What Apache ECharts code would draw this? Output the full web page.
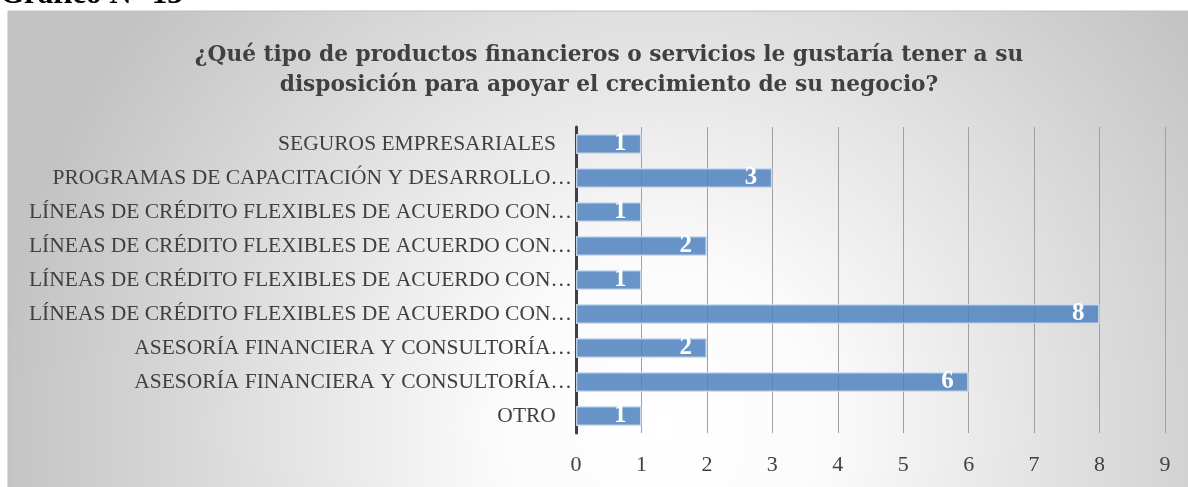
<!DOCTYPE html>
<html>
<head>
<meta charset="utf-8">
<script src="https://cdn.jsdelivr.net/npm/echarts@6/dist/echarts.min.js"></script>
<style>
  html, body { margin: 0; padding: 0; background: #fff; }
  #chart { width: 1188px; height: 487px; }
</style>
</head>
<body>
<div id="chart"></div>
<script>
// categorias tal como aparecen (de arriba hacia abajo)
const categorias = [
  "SEGUROS EMPRESARIALES   ",
  "PROGRAMAS DE CAPACITACIÓN Y DESARROLLO…",
  "LÍNEAS DE CRÉDITO FLEXIBLES DE ACUERDO CON…",
  "LÍNEAS DE CRÉDITO FLEXIBLES DE ACUERDO CON…",
  "LÍNEAS DE CRÉDITO FLEXIBLES DE ACUERDO CON…",
  "LÍNEAS DE CRÉDITO FLEXIBLES DE ACUERDO CON…",
  "ASESORÍA FINANCIERA Y CONSULTORÍA…",
  "ASESORÍA FINANCIERA Y CONSULTORÍA…",
  "OTRO   "
];
const valores = [1, 3, 1, 2, 1, 8, 2, 6, 1];
const ejeMin = 0;
const ejeMax = 9;

const titulo = "¿Qué tipo de productos financieros o servicios le gustaría tener a su\ndisposición para apoyar el crecimiento de su negocio?";
const serif = "Liberation Serif";

/*
 * =================grafico de barras===================*/
{
  const dom = document.getElementById("chart");
  const myChart = echarts.init(dom, null, { renderer: "canvas" });
  const option = {
    animation: false,
    graphic: [
      {
        type: "rect",
        z: -10,
        shape: { x: 8, y: 11, width: 1190, height: 490 },
        style: {
          fill: {
            type: "radial",
            x: 0.55,
            y: 0.85,
            r: 1.35,
            colorStops: [
              { offset: 0, color: "#ffffff" },
              { offset: 0.25, color: "#fbfbfb" },
              { offset: 1, color: "#c3c3c3" },
            ],
          },
          stroke: "#bfbfbf",
          lineWidth: 1,
        },
      },
      {
        type: "text",
        left: 0,
        top: -21,
        style: {
          text: "Gráfico N° 13",
          font: "bold 31px " + serif,
          fill: "#000",
        },
      },
    ],
    title: {
      text: titulo,
      left: 604,
      textAlign: "center",
      top: 35,
      textStyle: {
        fontFamily: "DejaVu Serif",
        fontWeight: "bold",
        fontSize: 21.7,
        lineHeight: 30,
        color: "#404040",
      },
    },
    grid: {
      left: 576,
      right: 23,
      top: 127,
      bottom: 54,
      containLabel: false,
    },
    xAxis: {
      type: "value",
      min: ejeMin,
      max: ejeMax,
      interval: 1,
      axisLine: { show: false },
      axisTick: { show: false },
      splitLine: { show: true, lineStyle: { color: "#a0a0a0", width: 1 } },
      axisLabel: {
        margin: 21,
        fontFamily: serif,
        fontSize: 22,
        color: "#404040",
      },
    },
    yAxis: {
      type: "category",
      inverse: true,
      data: categorias,
      axisLine: { show: true, lineStyle: { color: "#404040", width: 3 } },
      axisTick: { show: false },
      axisLabel: {
        margin: 4,
        fontFamily: serif,
        fontSize: 21.5,
        color: "#404040",
      },
    },
    series: [
      {
        type: "bar",
        data: valores,
        barCategoryGap: "41%",
        itemStyle: {
          color: "rgba(79,129,189,0.85)",
          borderColor: "rgba(205,220,238,0.9)",
          borderWidth: 1.5,
        },
        label: {
          show: true,
          position: "insideRight",
          distance: 15,
          fontFamily: serif,
          fontWeight: "bold",
          fontSize: 25,
          color: "#fff",
        },
      },
    ],
  };
  myChart.setOption(option);
}
</script>
</body>
</html>
